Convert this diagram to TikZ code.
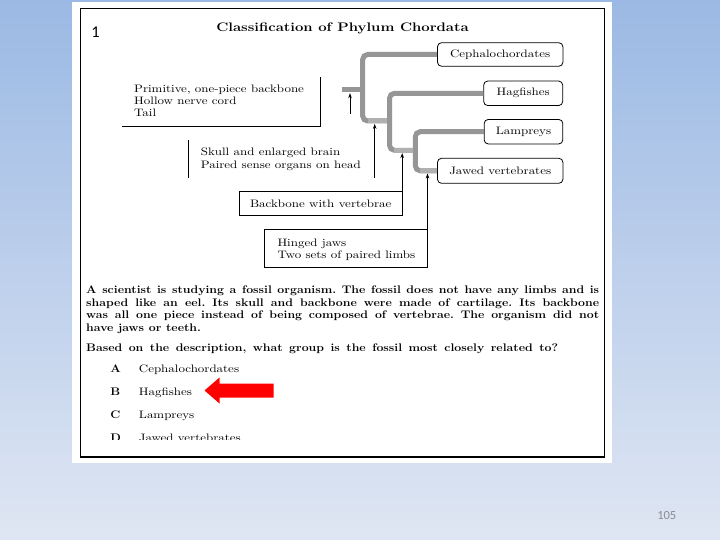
\documentclass[tikz,border=0pt]{standalone}
\usepackage{fontspec}
\usepackage{graphicx}
\newfontfamily\calibri{Carlito}
\usetikzlibrary{arrows.meta}
\definecolor{bgtop}{RGB}{155,185,228}
\definecolor{bgbot}{RGB}{223,230,243}
\definecolor{branchc}{RGB}{150,150,150}
\definecolor{branchl}{RGB}{176,176,176}
\definecolor{pgnum}{RGB}{137,140,148}
\newcommand{\dg}[1]{\scalebox{1.2}[1]{\fontsize{10.8}{12}\selectfont #1}}
\newcommand{\bq}[1]{\scalebox{1.12}[1]{\fontsize{11}{12}\selectfont\bfseries #1}}
\frenchspacing
\begin{document}
\begin{tikzpicture}[x=1pt,y=-1pt,
  txt/.style={inner sep=0pt, anchor=base west},
  leaf/.style={draw, rounded corners=4pt, line width=0.8pt, inner sep=0pt, fill=white},
  branch/.style={line width=5pt, draw=branchc, rounded corners=5pt},
  lbranch/.style={line width=5pt, draw=branchl},
  arr/.style={line width=0.7pt, -{Stealth[length=5pt,width=3.6pt]}},
  rule/.style={line width=0.8pt},
  plainbox/.style={draw, line width=0.8pt, inner sep=0pt, outer sep=0pt}]
% background
\shade[top color=bgtop, bottom color=bgbot] (0,0) rectangle (720,540);
\useasboundingbox (0,0) rectangle (720,540);
\fill[white] (72,2) rectangle (612,463);
\draw[line width=1.1pt] (80.3,8.5) rectangle (604.5,457);
% title and number
\node[anchor=base, inner sep=0pt] (title) at (342.5,31.8) {\scalebox{1.2}[1]{\fontsize{12.4}{14}\selectfont\bfseries Classification of Phylum Chordata}};
\node[anchor=base, inner sep=0pt] (num) at (95.5,38) {\calibri\fontsize{16.5}{18}\selectfont 1};
% tip boxes
\node[leaf, minimum width=125.4, minimum height=23.5] (ceph) at (500.2,54.5) {\dg{Cephalochordates}};
\node[leaf, minimum width=79, minimum height=24.5] (hag) at (523.2,93.3) {\dg{Hagfishes}};
\node[leaf, minimum width=78.6, minimum height=24.5] (lam) at (523.5,131.7) {\dg{Lampreys}};
\node[leaf, minimum width=125.4, minimum height=25] (jaw) at (500.2,170.8) {\dg{Jawed vertebrates}};
% tree
\coordinate (r0) at (342,90);
\coordinate (n1) at (362.7,90);
\coordinate (n2) at (389.5,121);
\coordinate (n3) at (415.6,150.3);
\draw[branch] (r0) -- (n1);
\draw[branch] (n2) -- ++(-26.8,0) |- (ceph.west);
\draw[branch] (n3) -- ++(-26.1,0) |- (hag.west);
\draw[branch] (jaw.west) -- ++(-21.8,0) |- (lam.west);
\draw[lbranch] (367.5,121) -- (387,121);
\draw[lbranch] (394.3,150.3) -- (413.1,150.3);
\draw[lbranch] (420.4,170.8) -- (jaw.west);
% arrows to nodes of the tree
\coordinate (a1s) at (350,113.6);
\coordinate (a1t) at (350,93.2);
\coordinate (a2s) at (374.7,177.7);
\coordinate (a2t) at (374.7,123.9);
\coordinate (a3t) at (402.2,153.1);
\coordinate (a4t) at (427.5,173.5);
\draw[arr] (a1s) -- (a1t);
\draw[arr] (a2s) -- (a2t);
% character sets
\node[txt] (p1) at (134,92.7) {\dg{Primitive, one-piece backbone}};
\node[txt] (p2) at (134,104.7) {\dg{Hollow nerve cord}};
\node[txt] (p3) at (134,116.8) {\dg{Tail}};
\coordinate (b1a) at (320,77.5);
\coordinate (b1b) at (320,126.4);
\coordinate (b1c) at (122,126.4);
\draw[rule] (b1a) -- (b1b) -- (b1c);
\node[txt] (s1) at (200.6,155.7) {\dg{Skull and enlarged brain}};
\node[txt] (s2) at (200.6,168.8) {\dg{Paired sense organs on head}};
\coordinate (b2a) at (188.2,140);
\coordinate (b2b) at (188.2,177.7);
\draw[rule] (b2a) -- (b2b);
\node[plainbox, minimum width=163, minimum height=24.1] (bb) at (320.7,203.55) {\dg{Backbone with vertebrae}};
\draw[arr] (bb.north east) -- (a3t);
\node[plainbox, minimum width=163, minimum height=37.9, anchor=north west] (hj) at (264.5,229.3) {};
\node[txt] (h1) at (277.3,246.6) {\dg{Hinged jaws}};
\node[txt] (h2) at (277.3,258.7) {\dg{Two sets of paired limbs}};
\draw[arr] (hj.north east) -- (a4t);
% question
\node[txt] (q1) at (86,293.8) {\bq{\makebox[458pt][s]{A scientist is studying a fossil organism. The fossil does not have any limbs and is}}};
\node[txt] (q2) at (86,306.4) {\bq{\makebox[458pt][s]{shaped like an eel. Its skull and backbone were made of cartilage. Its backbone}}};
\node[txt] (q3) at (86,318.9) {\bq{\makebox[458pt][s]{was all one piece instead of being composed of vertebrae. The organism did not}}};
\node[txt] (q4) at (86,331.3) {\bq{have jaws or teeth.}};
\node[txt] (ques) at (86,351.6) {\bq{\makebox[421.4pt][s]{Based on the description, what group is the fossil most closely related to?}}};
\node[txt] (la) at (110.2,372) {\bq{A}};
\node[txt] (oa) at (138.7,372) {\dg{Cephalochordates}};
\node[txt] (lb) at (110.2,395) {\bq{B}};
\node[txt] (ob) at (138.7,395) {\dg{Hagfishes}};
\node[txt] (lc) at (110.2,418) {\bq{C}};
\node[txt] (oc) at (138.7,418) {\dg{Lampreys}};
\begin{scope}
\clip (100,420) rectangle (300,439.3);
\node[txt] (ld) at (110.2,441) {\bq{D}};
\node[txt] (od) at (138.7,441) {\dg{Jawed vertebrates}};
\end{scope}
% red arrow
\fill[red] (204.5,390.5) -- (219.5,377.5) -- (219.5,383.5) -- (273.5,383.5) -- (273.5,397.5) -- (219.5,397.5) -- (219.5,403.5) -- cycle;
% page number
\node[anchor=base, inner sep=0pt, text=pgnum] (pg) at (666.8,519) {\calibri\fontsize{12.5}{14}\selectfont 105};
\end{tikzpicture}
\end{document}
